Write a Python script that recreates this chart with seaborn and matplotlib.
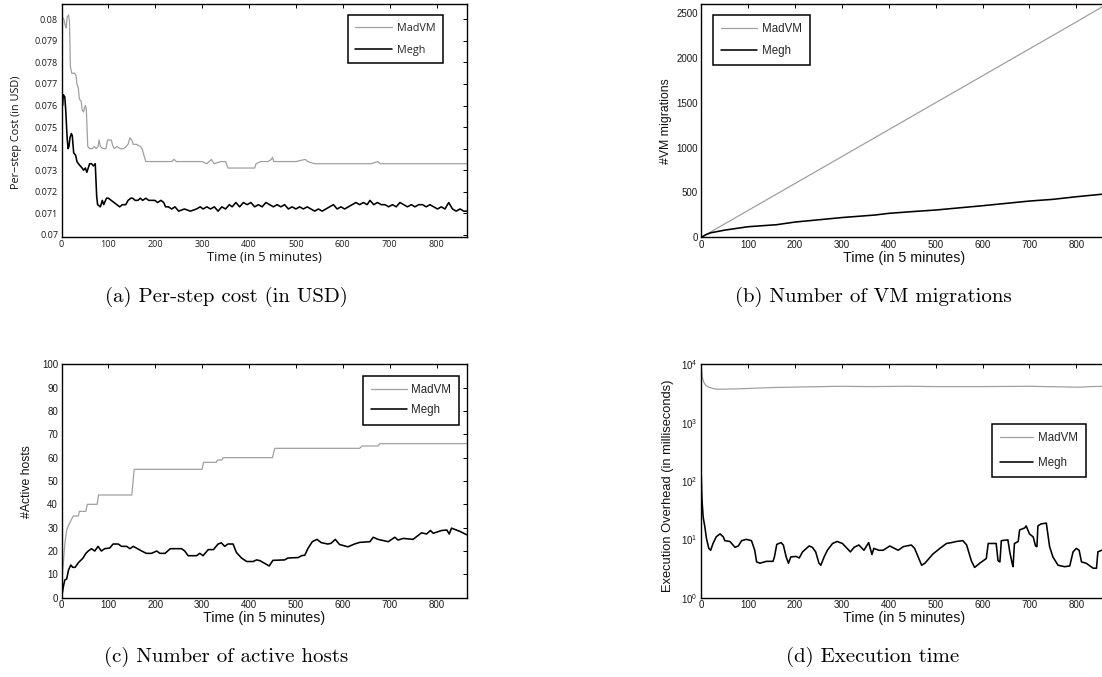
import matplotlib
matplotlib.use("Agg")
import matplotlib.pyplot as plt
from matplotlib.ticker import NullLocator
import seaborn as sns

# ---------------------------------------------------------------- data
time_ticks = [0, 100, 200, 300, 400, 500, 600, 700, 800]
time_labels = ["0", "100", "200", "300", "400", "500", "600", "700", "800"]
series_names = ["MadVM", "Megh"]

# (a) per-step cost in USD
cost_t_madvm = [0, 2, 5, 8, 10, 12, 15, 17, 19, 22, 28, 31, 33, 36, 38, 42, 44, 47, 49, 51, 53,
                56, 60, 66, 70, 74, 78, 80, 83, 88, 95, 98, 106, 110, 113, 118, 125, 133, 138,
                142, 146, 150, 153, 160, 168, 172, 177, 180, 200, 220, 235, 240, 245, 280, 300,
                310, 320, 325, 340, 350, 355, 370, 390, 412, 415, 425, 440, 448, 450, 453, 480,
                500, 520, 525, 540, 560, 583, 620, 660, 675, 680, 720, 760, 800, 820, 864]
cost_madvm = [0.0795, 0.0801, 0.0800, 0.0797, 0.0796, 0.0801, 0.0802, 0.0799, 0.0778, 0.0775,
              0.0775, 0.0774, 0.0770, 0.0768, 0.0763, 0.0762, 0.0758, 0.0757, 0.0759, 0.0760,
              0.0758, 0.0741, 0.0740, 0.0740, 0.0741, 0.0740, 0.0741, 0.0744, 0.0741, 0.0740,
              0.0740, 0.0744, 0.0744, 0.0741, 0.0740, 0.0741, 0.0740, 0.0740, 0.0741, 0.0742,
              0.0745, 0.0744, 0.0742, 0.0742, 0.0741, 0.0740, 0.0736, 0.0734, 0.0734, 0.0734,
              0.0734, 0.0735, 0.0734, 0.0734, 0.0734, 0.0733, 0.0735, 0.0733, 0.0734, 0.0734,
              0.0731, 0.0731, 0.0731, 0.0731, 0.0733, 0.0734, 0.0734, 0.0735, 0.0736, 0.0734,
              0.0734, 0.0734, 0.0735, 0.0734, 0.0733, 0.0733, 0.0733, 0.0733, 0.0733, 0.0734,
              0.0733, 0.0733, 0.0733, 0.0733, 0.0733, 0.0733]
cost_t_megh = [0, 2, 4, 7, 9, 12, 14, 16, 18, 21, 23, 26, 30, 33, 36, 40, 44, 47, 51, 54, 57,
               60, 64, 68, 72, 75, 77, 83, 87, 90, 96, 100, 106, 112, 118, 124, 130, 137, 142,
               148, 152, 157, 163, 168, 173, 180, 186, 192, 199, 205, 212, 218, 222, 228, 235,
               242, 250, 262, 275, 288, 296, 302, 310, 318, 326, 334, 342, 350, 358, 364, 372,
               380, 388, 396, 404, 412, 420, 428, 436, 444, 452, 460, 468, 476, 484, 492, 500,
               508, 516, 524, 532, 540, 548, 556, 564, 572, 580, 588, 596, 604, 612, 620, 628,
               636, 644, 652, 658, 666, 674, 682, 690, 698, 706, 714, 722, 730, 738, 746, 754,
               762, 770, 778, 786, 794, 802, 810, 818, 826, 834, 842, 850, 858, 864]
cost_megh = [0.0771, 0.0760, 0.0765, 0.0764, 0.0758, 0.0745, 0.0740, 0.0741, 0.0745, 0.0747,
             0.0746, 0.0738, 0.0737, 0.0734, 0.0733, 0.0732, 0.0731, 0.0730, 0.0731, 0.0729,
             0.0731, 0.0733, 0.0733, 0.0732, 0.0733, 0.0718, 0.0714, 0.0713, 0.0716, 0.0714,
             0.0717, 0.0717, 0.0716, 0.0715, 0.0714, 0.0713, 0.0714, 0.0714, 0.0716, 0.0717,
             0.0717, 0.0716, 0.0716, 0.0717, 0.0716, 0.0717, 0.0716, 0.0716, 0.0716, 0.0715,
             0.0716, 0.0715, 0.0713, 0.0713, 0.0712, 0.0713, 0.0711, 0.0712, 0.0711, 0.0712,
             0.0713, 0.0712, 0.0713, 0.0712, 0.0713, 0.0711, 0.0713, 0.0712, 0.0714, 0.0713,
             0.0715, 0.0713, 0.0715, 0.0714, 0.0715, 0.0713, 0.0714, 0.0713, 0.0715, 0.0714,
             0.0713, 0.0714, 0.0713, 0.0714, 0.0712, 0.0713, 0.0712, 0.0713, 0.0712, 0.0713,
             0.0712, 0.0711, 0.0712, 0.0711, 0.0712, 0.0713, 0.0714, 0.0712, 0.0713, 0.0712,
             0.0713, 0.0714, 0.0715, 0.0714, 0.0715, 0.0714, 0.0716, 0.0714, 0.0715, 0.0714,
             0.0714, 0.0713, 0.0714, 0.0713, 0.0715, 0.0714, 0.0713, 0.0714, 0.0713, 0.0714,
             0.0714, 0.0713, 0.0714, 0.0713, 0.0712, 0.0713, 0.0712, 0.0715, 0.0712, 0.0711,
             0.0712, 0.0711, 0.0711]
cost_ticks = [0.070, 0.071, 0.072, 0.073, 0.074, 0.075, 0.076, 0.077, 0.078, 0.079, 0.080]
cost_labels = ["0.07", "0.071", "0.072", "0.073", "0.074", "0.075", "0.076", "0.077",
               "0.078", "0.079", "0.08"]

# (b) cumulative number of VM migrations
mig_t_madvm = [0, 100, 200, 300, 400, 500, 600, 700, 800, 864]
mig_madvm = [0, 300, 600, 900, 1200, 1500, 1800, 2100, 2400, 2595]
mig_t_megh = [0, 10, 20, 50, 100, 160, 200, 260, 300, 370, 400, 460, 500, 600, 700, 750, 800, 864]
mig_megh = [0, 30, 50, 80, 118, 140, 170, 200, 220, 248, 267, 290, 304, 352, 404, 423, 452, 485]
mig_ticks = [0, 500, 1000, 1500, 2000, 2500]
mig_labels = ["0", "500", "1000", "1500", "2000", "2500"]

# (c) number of active hosts
hosts_t_madvm = [0, 2, 4, 7, 11, 15, 20, 25, 36, 38, 52, 55, 76, 79, 150, 155, 300, 303, 330,
                 333, 342, 345, 450, 455, 636, 641, 675, 679, 864]
hosts_madvm = [0, 10, 15, 23, 29, 31, 33, 35, 35, 37, 37, 40, 40, 44, 44, 55, 55, 58, 58, 59,
               59, 60, 60, 64, 64, 65, 65, 66, 66]
hosts_t_megh = [0, 4, 7, 11, 15, 20, 24, 29, 36, 46, 52, 57, 64, 71, 78, 85, 92, 103, 110, 121,
                128, 139, 146, 153, 164, 171, 181, 192, 203, 210, 221, 232, 256, 263, 270, 288,
                295, 302, 313, 324, 334, 341, 348, 355, 366, 373, 384, 395, 409, 416, 423, 437,
                443, 451, 476, 483, 505, 512, 519, 526, 535, 545, 554, 568, 575, 584, 593, 611,
                625, 636, 658, 665, 675, 697, 711, 718, 729, 750, 768, 779, 787, 793, 811, 822,
                827, 832, 850, 864]
hosts_megh = [0, 4.7, 7.6, 8, 11.9, 14, 13, 13, 15, 17, 19, 20, 21, 20, 22, 20, 21, 21.3, 23, 23,
              22, 22, 21, 22, 20.8, 20, 19, 19, 20, 19, 19, 21, 21, 20, 18, 18, 19, 18, 20.6,
              20.6, 23, 23.5, 22, 23, 23, 19.4, 17, 15.5, 15.5, 16.2, 15.9, 14.3, 13.6, 16, 16.2,
              17, 17.2, 18, 18.2, 21.2, 24, 25, 23.6, 23, 23.3, 25, 22.8, 21.8, 23, 23.7, 24,
              25.9, 25, 24, 25.9, 24.7, 25.4, 25, 27.8, 27.3, 28.8, 27.6, 28.8, 29, 27.3, 29.8,
              28.4, 27]
hosts_ticks = [0, 10, 20, 30, 40, 50, 60, 70, 80, 90, 100]
hosts_labels = ["0", "10", "20", "30", "40", "50", "60", "70", "80", "90", "100"]

# (d) execution overhead in milliseconds (log scale)
exec_t_madvm = [0, 2, 5, 9, 16, 25, 34, 50, 81, 152, 223, 294, 360, 436, 500, 600, 700, 807,
                830, 864]
exec_madvm = [9100, 6100, 5000, 4400, 4050, 3850, 3730, 3750, 3800, 4000, 4100, 4200, 4150,
              4200, 4150, 4150, 4200, 4050, 4150, 4200]
exec_t_megh = [0, 1, 2, 4, 7.5, 11, 16, 20, 25, 32, 40, 47, 50, 61, 72, 79, 86, 96, 107, 114,
               118, 125, 139, 153, 156, 161, 170, 175, 181, 186, 191, 202, 209, 216, 230, 237,
               244, 251, 255, 262, 269, 280, 290, 301, 311, 318, 326, 336, 347, 357, 364, 368,
               379, 388, 402, 420, 431, 448, 455, 470, 477, 494, 509, 523, 534, 544, 558, 566,
               576, 583, 594, 608, 612, 629, 633, 637, 640, 654, 658, 663, 665, 668, 676, 679,
               690, 693, 700, 708, 713, 716, 718, 725, 736, 743, 750, 761, 775, 786, 793, 800,
               806, 811, 821, 836, 843, 846, 854, 864]
exec_megh = [120, 60, 41, 24, 16.5, 10.4, 7, 6.5, 8.5, 11.1, 12.4, 11, 9.5, 9.2, 7.3, 7.7, 9.5,
             10, 9.5, 6.5, 4.1, 3.9, 4.2, 4.2, 5.0, 8.2, 8.8, 8, 5, 3.9, 5, 5.1, 4.8, 6.1, 7.7,
             7.3, 6.1, 3.9, 3.6, 5.0, 6.5, 8.5, 9.2, 8.5, 7, 6.1, 7.3, 8, 6.5, 8.8, 5.5, 7, 6.5,
             6.5, 7.7, 6.5, 7.5, 8, 7, 3.6, 3.9, 5.6, 7, 8.5, 8.8, 9.2, 9.5, 8, 4.3, 3.3, 3.9,
             4.7, 8.5, 8.5, 4.3, 4.1, 9.5, 9.8, 6.1, 3.9, 3.4, 8.5, 9.2, 14.5, 15.7, 17, 12.4,
             11, 7.7, 7.5, 17, 18.4, 19, 7.5, 5, 3.6, 3.4, 3.5, 6.1, 7, 6.5, 4.1, 3.9, 3.2, 3.2,
             6.1, 6.5, 6.5]
exec_ticks = [1, 10, 100, 1000, 10000]
exec_labels = [r"$\mathdefault{10^{0}}$", r"$\mathdefault{10^{1}}$", r"$\mathdefault{10^{2}}$",
               r"$\mathdefault{10^{3}}$", r"$\mathdefault{10^{4}}$"]

captions = ["(a) Per-step cost (in USD)", "(b) Number of VM migrations",
            "(c) Number of active hosts", "(d) Execution time"]

# ---------------------------------------------------------------- style
sns.set_style("white")
plt.rcParams["font.family"] = ["Liberation Sans", "DejaVu Sans"]
plt.rcParams["axes.linewidth"] = 1.0
plt.rcParams["axes.edgecolor"] = "black"

GREY = "#a0a0a0"
BLACK = "#000000"
W, H = 1102, 677

fig = plt.figure(figsize=(W / 100, H / 100), dpi=100)


def add_panel(left_px, top_px, width_px, height_px):
    return fig.add_axes([left_px / W, 1 - (top_px + height_px) / H, width_px / W, height_px / H])


def style_axes(ax, family, tick_size):
    ax.set_xlim(0, 865)
    ax.set_xticks(time_ticks, labels=time_labels, fontfamily=family, fontsize=tick_size)
    ax.tick_params(which="both", direction="in", top=True, right=True, length=2.6,
                   width=0.7, color="black", labelcolor="#1a1a1a")
    ax.tick_params(axis="x", pad=2.0)
    ax.tick_params(axis="y", pad=2.5)
    for sp in ax.spines.values():
        sp.set_visible(True)
        sp.set_color("black")
        sp.set_linewidth(1.0)
    ax.grid(False)


def draw(ax, tx, ya, tb, yb):
    sns.lineplot(x=tx, y=ya, ax=ax, color=GREY, linewidth=0.9, label=series_names[0],
                 estimator=None, sort=False)
    sns.lineplot(x=tb, y=yb, ax=ax, color=BLACK, linewidth=1.15, label=series_names[1],
                 estimator=None, sort=False)


def legend(ax, x0, ytop, family, size, spacing, handle=3.2):
    leg = ax.legend(loc="upper left", bbox_to_anchor=(x0, ytop), borderaxespad=0,
                    frameon=True, fancybox=False, framealpha=1, edgecolor="black",
                    prop={"family": family, "size": size}, handlelength=handle,
                    handletextpad=0.4, borderpad=0.7, labelspacing=spacing)
    leg.get_frame().set_linewidth(1.1)
    return leg


def labels(ax, xlabel, ylabel, family, xsize, ysize, xlab_y, ylab_x, ylab_y):
    ax.set_xlabel(xlabel, fontfamily=family, fontsize=xsize, va="center", color="#111111")
    ax.set_ylabel(ylabel, fontfamily=family, fontsize=ysize, va="center", color="#111111")
    ax.xaxis.set_label_coords(0.5, xlab_y)
    ax.yaxis.set_label_coords(ylab_x, ylab_y)


OPEN = ["Open Sans", "DejaVu Sans"]
LIB = ["Liberation Sans", "DejaVu Sans"]

# (a) per-step cost
ax_a = add_panel(61.5, 4, 405.5, 233)
draw(ax_a, cost_t_madvm, cost_madvm, cost_t_megh, cost_megh)
style_axes(ax_a, OPEN, 6.5)
ax_a.set_ylim(0.0699, 0.08071)
ax_a.set_yticks(cost_ticks, labels=cost_labels, fontfamily=OPEN, fontsize=6.5)
labels(ax_a, "Time (in 5 minutes)", "Per\u2212step Cost (in USD)", OPEN, 9.3, 7.8,
       -0.09, -0.111, 0.45)
legend(ax_a, 0.706, 0.953, OPEN, 7.8, 1.05, handle=3.4)

# (b) VM migrations
ax_b = add_panel(701.3, 4, 405.5, 233.3)
draw(ax_b, mig_t_madvm, mig_madvm, mig_t_megh, mig_megh)
style_axes(ax_b, LIB, 7)
ax_b.set_ylim(0, 2600)
ax_b.set_yticks(mig_ticks, labels=mig_labels, fontfamily=LIB, fontsize=7)
labels(ax_b, "Time (in 5 minutes)", "#VM migrations", LIB, 10.3, 8.8,
       -0.09, -0.087, 0.497)
legend(ax_b, 0.0296, 0.953, LIB, 8.3, 0.85, handle=3.1)

# (c) active hosts
ax_c = add_panel(61.5, 364.3, 405.5, 233.4)
draw(ax_c, hosts_t_madvm, hosts_madvm, hosts_t_megh, hosts_megh)
style_axes(ax_c, LIB, 7)
ax_c.set_ylim(0, 100)
ax_c.set_yticks(hosts_ticks, labels=hosts_labels, fontfamily=LIB, fontsize=7)
labels(ax_c, "Time (in 5 minutes)", "#Active hosts", LIB, 10.3, 8.8,
       -0.087, -0.085, 0.497)
legend(ax_c, 0.743, 0.951, LIB, 8.3, 0.75, handle=3.1)

# (d) execution overhead
ax_d = add_panel(701.3, 364.3, 405.5, 233.4)
draw(ax_d, exec_t_madvm, exec_madvm, exec_t_megh, exec_megh)
style_axes(ax_d, LIB, 7)
ax_d.set_yscale("log")
ax_d.set_ylim(1, 10000)
ax_d.set_yticks(exec_ticks, labels=exec_labels, fontfamily=LIB, fontsize=7)
ax_d.yaxis.set_minor_locator(NullLocator())
labels(ax_d, "Time (in 5 minutes)", "Execution Overhead (in milliseconds)", LIB, 10.3, 9.3,
       -0.087, -0.083, 0.48)
legend(ax_d, 0.716, 0.743, LIB, 8.3, 1.1, handle=2.9)

# sub-figure captions
for cap, (cx, cy) in zip(captions, [(226, 297), (873, 297), (226, 657), (873, 657)]):
    fig.text(cx / W, 1 - cy / H, cap, ha="center", va="center", fontfamily="cmr10",
             fontsize=15, color="black")

fig.savefig("out.png", dpi=100, facecolor="white")
